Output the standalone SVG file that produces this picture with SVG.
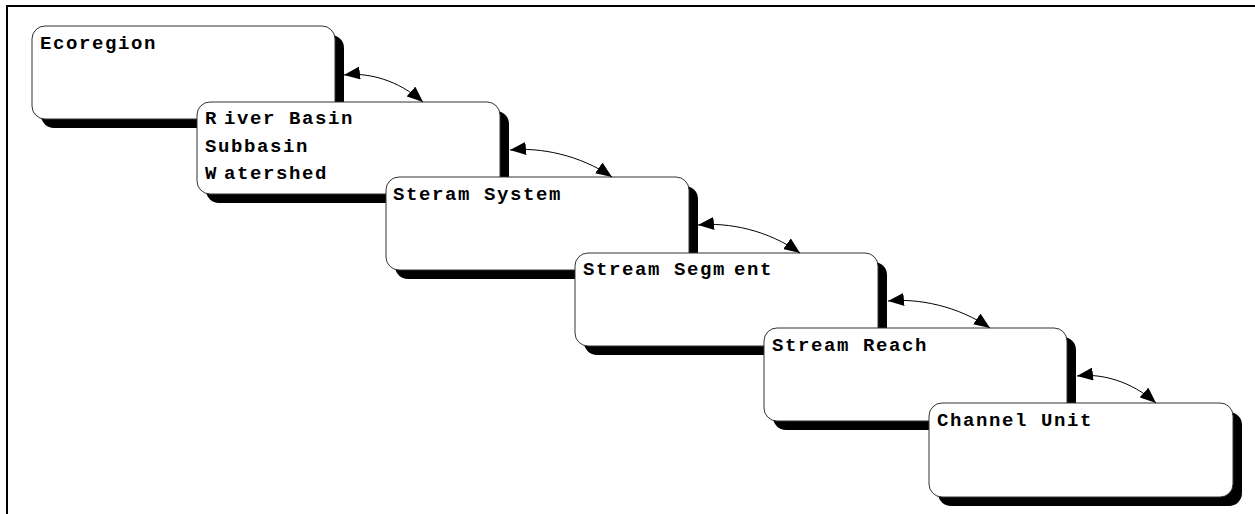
<svg xmlns="http://www.w3.org/2000/svg" width="1255" height="514" viewBox="0 0 1255 514">
<style>
.frame{stroke:#000;stroke-width:2;fill:none}
.shadow{fill:#000}
.box{fill:#fff;stroke:#333;stroke-width:1}
.lbl{font-family:"Liberation Mono","Courier New",monospace;font-weight:bold;font-size:19px;letter-spacing:1.6px;fill:#000}
.conn{fill:none;stroke:#000;stroke-width:1}
</style>
<defs>
<marker id="ah" viewBox="0 0 16 13" refX="16" refY="6.5" markerWidth="16" markerHeight="13" markerUnits="userSpaceOnUse" orient="auto-start-reverse">
<path d="M0,0 L16,6.5 L0,13 z" fill="#000"/>
</marker>
</defs>
<rect width="1255" height="514" fill="#fff"/>
<path class="frame" d="M7 514 V6 H1255"/>
<g id="ecoregion">
<rect class="shadow" x="41" y="35" width="303" height="93" rx="13"/>
<rect class="box" x="32" y="26" width="303" height="93" rx="13"/>
<text class="lbl" x="40" y="49">Ecoregion</text>
</g>
<g id="river-basin">
<rect class="shadow" x="206" y="111" width="303" height="92" rx="13"/>
<rect class="box" x="197" y="102" width="303" height="92" rx="13"/>
<text class="lbl" x="205" y="124">R<tspan dx="6">iver Basin</tspan></text>
<text class="lbl" x="205" y="152">Subbasin</text>
<text class="lbl" x="205" y="179">W<tspan dx="6">atershed</tspan></text>
</g>
<g id="stream-system">
<rect class="shadow" x="395" y="186" width="303" height="93" rx="13"/>
<rect class="box" x="386" y="177" width="303" height="93" rx="13"/>
<text class="lbl" x="393" y="200">Steram System</text>
</g>
<g id="stream-segment">
<rect class="shadow" x="584" y="262" width="303" height="93" rx="13"/>
<rect class="box" x="575" y="253" width="303" height="93" rx="13"/>
<text class="lbl" x="583" y="275">Stream Segm<tspan dx="8">ent</tspan></text>
</g>
<g id="stream-reach">
<rect class="shadow" x="773" y="337" width="303" height="93" rx="13"/>
<rect class="box" x="764" y="328" width="303" height="93" rx="13"/>
<text class="lbl" x="772" y="351">Stream Reach</text>
</g>
<g id="channel-unit">
<rect class="shadow" x="938" y="412" width="304" height="94" rx="13"/>
<rect class="box" x="929" y="403" width="304" height="94" rx="13"/>
<text class="lbl" x="937" y="426">Channel Unit</text>
</g>
<g id="connectors">
<path class="conn" d="M344 75 C368 72 398 80 423 102" marker-start="url(#ah)" marker-end="url(#ah)"/>
<path class="conn" d="M510 150 C540 147 580 155 612 177" marker-start="url(#ah)" marker-end="url(#ah)"/>
<path class="conn" d="M698 225 C728 222 768 230 800 253" marker-start="url(#ah)" marker-end="url(#ah)"/>
<path class="conn" d="M888 301 C918 298 958 306 990 328" marker-start="url(#ah)" marker-end="url(#ah)"/>
<path class="conn" d="M1077 376 C1101 373 1131 381 1156 403" marker-start="url(#ah)" marker-end="url(#ah)"/>
</g>
</svg>
